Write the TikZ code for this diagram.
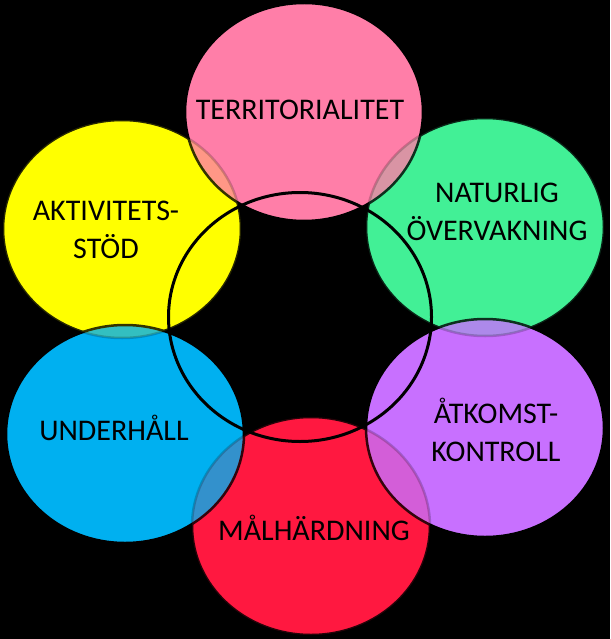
\documentclass[tikz,border=0pt]{standalone}
\usepackage{fontspec}
\setmainfont{Carlito}
\usetikzlibrary{shapes.geometric}

\definecolor{terrpink}{RGB}{255,126,168}
\definecolor{natgreen}{RGB}{66,240,150}
\definecolor{atkpurple}{RGB}{200,112,255}
\definecolor{malred}{RGB}{255,24,64}
\definecolor{undblue}{RGB}{0,176,240}
\definecolor{aktyellow}{RGB}{255,255,0}

\begin{document}
\begin{tikzpicture}[
    x=1pt, y=-1pt,
    blob/.style={ellipse, draw=black, line width=2.5pt, minimum width=238pt, minimum height=218pt, inner sep=0pt},
    ring/.style={ellipse, draw=black, line width=3pt, minimum width=263pt, minimum height=249pt, inner sep=0pt},
    lbl/.style={font=\fontsize{30}{38}\selectfont, text=black, align=center}
]
\fill[black] (0,0) rectangle (610,639);

% lower circles
\node[blob, fill=aktyellow] (akt) at (122,229) {};
\node[blob, fill=natgreen] (nat) at (485,227) {};
\node[blob, fill=malred] (mal) at (311,526) {};
% upper circles
\node[blob, fill=terrpink] (terr) at (304,112) {};
\node[blob, fill=atkpurple] (atk) at (485,428) {};
\node[blob, fill=undblue] (und) at (125,434) {};
% lower circles shine through a little
\foreach \n/\c in {akt/aktyellow, nat/natgreen, mal/malred}
    \filldraw[fill=\c, draw=black, line width=2.5pt, opacity=0.2] (\n.center) ellipse [x radius=119pt, y radius=109pt];

% middle ring
\node[ring] (mid) at (300,317) {};

% texts (base = last line)
\node[lbl, anchor=base] (terr-t) at (300,120) {TERRITORIALITET};
\node[lbl, anchor=base] (nat-t) at (497,240) {NATURLIG\\ÖVERVAKNING};
\node[lbl, anchor=base] (akt-t) at (106,258) {AKTIVITETS-\\STÖD};
\node[lbl, anchor=base] (atk-t) at (496,461) {ÅTKOMST-\\KONTROLL};
\node[lbl, anchor=base] (und-t) at (114,440) {UNDERHÅLL};
\node[lbl, anchor=base] (mal-t) at (314,540) {MÅLHÄRDNING};
\end{tikzpicture}
\end{document}
